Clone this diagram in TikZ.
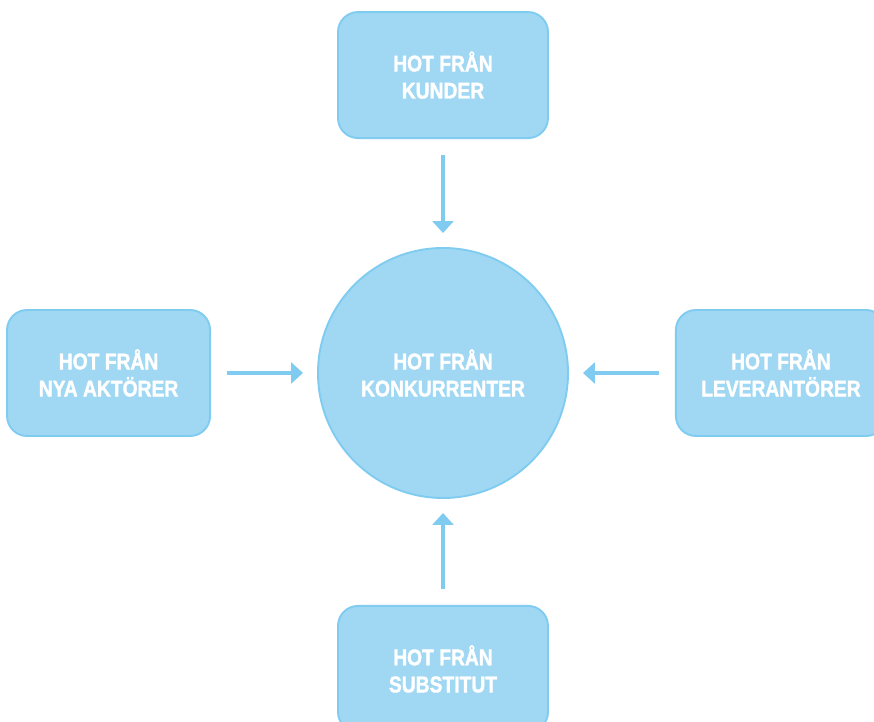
\documentclass[tikz,border=0pt]{standalone}
\usepackage{fontspec}
\setmainfont[FakeStretch=0.85, BoldFeatures={FakeBold=1.6}]{Liberation Sans}
\usepackage{tikz}
\usetikzlibrary{positioning}
\usetikzlibrary{arrows.meta}
\definecolor{hotfill}{HTML}{A0D8F4}
\definecolor{hotline}{HTML}{80CCF0}

\begin{document}
\begin{tikzpicture}[node distance={2.12cm},
  hot/.style = {draw=hotline, fill=hotfill, line width=1.1pt, text=white, font=\fontsize{12.9}{15.4}\selectfont\bfseries, align=center},
  box/.style = {hot, rectangle, rounded corners=0.4cm, minimum width=4.2cm, minimum height=2.52cm},
  mid/.style = {hot, circle, minimum size=5cm, inner sep=0pt},
  pil/.style = {-{Triangle[width=0.42cm, length=0.24cm]}, draw=hotline, line width=1.8pt, shorten <=0.32cm, shorten >=0.28cm}]
\useasboundingbox (-8.86,-6.98) rectangle (8.62,7.46);
\node[mid] (konk) {HOT FRÅN\\KONKURRENTER};
\node[box] (kunder) [above=2.16cm of konk] {HOT FRÅN\\KUNDER};
\node[box, minimum width=4.06cm] (nya) [left=of konk] {HOT FRÅN\\NYA AKTÖRER};
\node[box] (lev) [right=of konk] {HOT FRÅN\\LEVERANTÖRER};
\node[box] (subst) [below=of konk] {HOT FRÅN\\SUBSTITUT};
\draw[pil] (kunder) -- (konk);
\draw[pil] (nya) -- (konk);
\draw[pil] (lev) -- (konk);
\draw[pil] (subst) -- (konk);
\end{tikzpicture}
\end{document}
